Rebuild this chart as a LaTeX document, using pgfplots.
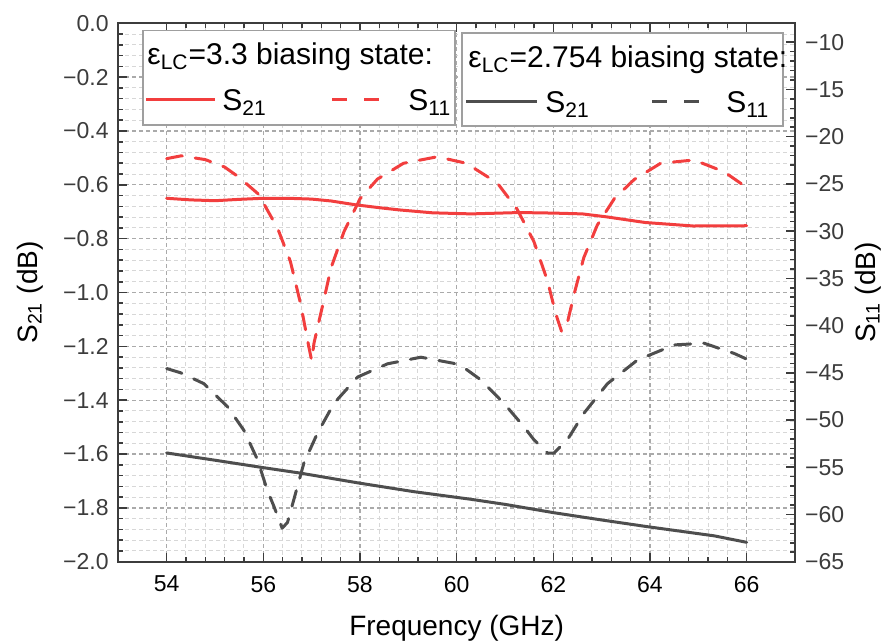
\documentclass[border=0pt]{standalone}
\usepackage{pgfplots}
\pgfplotsset{compat=1.18}
\usepackage{fontspec}
\setmainfont{Liberation Sans}
\definecolor{cred}{RGB}{242,62,62}
\definecolor{cgray}{RGB}{78,78,78}
\definecolor{gmaj}{RGB}{170,170,170}
\definecolor{gmin}{RGB}{215,215,215}
\definecolor{axcol}{RGB}{60,60,60}
\definecolor{tlab}{RGB}{60,60,60}
\begin{document}
\begin{tikzpicture}
\pgfplotsset{
  myaxis/.style={
    scale only axis, width=338.35pt, height=269.2pt,
    xmin=53, xmax=67,
    tick align=inside,
    major tick length=4.5pt, minor tick length=2.5pt,
    every tick/.style={axcol, line width=0.8pt},
    axis line style={axcol, line width=1.1pt},
    /pgf/number format/assume math mode=true,
    tick label style={font=\fontsize{11.5}{13}\selectfont},
    label style={font=\fontsize{14}{16}\selectfont},
  }
}
\begin{axis}[myaxis, name=ax,
  ymin=-2, ymax=0,
  xtick={54,56,...,66}, minor x tick num=4, xtick pos=both, xticklabel pos=lower,
  ytick={-2,-1.8,-1.6,-1.4,-1.2,-1,-0.8,-0.6,-0.4,-0.2,0},
  yticklabels={−2.0,−1.8,−1.6,−1.4,−1.2,−1.0,−0.8,−0.6,−0.4,−0.2,0.0},
  minor y tick num=4, ytick pos=left,
  grid=both,
  major grid style={gmaj, line width=0.65pt, dash pattern=on 2pt off 1.5pt},
  minor grid style={gmin, line width=0.5pt, dash pattern=on 2pt off 1.5pt},
  xticklabel style={anchor=north, yshift=-3.7pt, text=black},
  yticklabel style={anchor=east, xshift=-1.3pt, text=tlab},
  xlabel={Frequency (GHz)},
  ylabel={S\textsubscript{21} (dB)},
  xlabel style={at={(axis description cs:0.5,-0.1231)}, anchor=center},
  ylabel style={at={(axis description cs:-0.1305,0.5)}, anchor=center},
]
\addplot[cred, line width=1.5pt, line cap=round, line join=round] coordinates {
(54.0,-0.650) (54.5,-0.656) (55.0,-0.659) (55.5,-0.654) (56.0,-0.650)
(56.5,-0.650) (57.0,-0.653) (57.4,-0.660) (57.9,-0.674) (58.4,-0.685)
(58.8,-0.693) (59.5,-0.704) (60.3,-0.708) (61.3,-0.703) (62.0,-0.705)
(62.6,-0.708) (63.1,-0.719) (63.9,-0.740) (64.9,-0.753) (66.0,-0.752)
};
\addplot[cgray, line width=1.5pt, line cap=round, line join=round] coordinates {
(54.0,-1.596) (55.0,-1.623) (55.94,-1.649) (56.77,-1.671) (57.95,-1.707)
(59.12,-1.740) (60.29,-1.768) (61.0,-1.787) (62.01,-1.818) (63.0,-1.845)
(63.95,-1.870) (65.33,-1.904) (66.0,-1.928)
};
\end{axis}
\begin{axis}[myaxis,
  axis y line*=right, axis x line=none,
  ymin=-65, ymax=-8,
  ytick={-65,-60,...,-10},
  yticklabels={−65,−60,−55,−50,−45,−40,−35,−30,−25,−20,−15,−10},
  minor y tick num=4,
  yticklabel style={anchor=west, xshift=1.5pt, text=tlab},
  ylabel={S\textsubscript{11} (dB)},
  ylabel style={at={(axis description cs:1.1079,0.5)}, anchor=center},
]
\addplot[cred, line width=1.5pt, line cap=round, line join=round, dash pattern=on 8pt off 6.5pt] coordinates {
(54.0,-22.33) (54.3,-22.03) (54.8,-22.43) (55.2,-23.22) (55.5,-24.31) (55.9,-26.09)
(56.3,-29.75) (56.56,-33.21) (56.77,-37.66) (56.94,-42.21) (57.0,-43.7) (57.05,-41.82)
(57.25,-37.36) (57.4,-33.9) (57.67,-30.05) (58.0,-26.58) (58.36,-24.5) (58.9,-22.82)
(59.6,-22.13) (60.2,-22.82) (60.84,-24.9) (61.25,-27.67) (61.6,-31.13) (61.88,-35.28)
(62.05,-38.74) (62.17,-40.62) (62.28,-39.93) (62.43,-36.67) (62.63,-32.81) (62.91,-29.36)
(63.26,-26.58) (63.67,-24.55) (64.22,-22.82) (64.91,-22.47) (65.53,-23.71) (66.0,-25.38)
};
\addplot[cgray, line width=1.5pt, line cap=round, line join=round, dash pattern=on 8pt off 6.5pt] coordinates {
(54.0,-44.55) (54.29,-45.0) (54.77,-46.15) (55.26,-48.6) (55.6,-51.1) (55.88,-54.2)
(56.08,-57.4) (56.22,-59.15) (56.39,-61.45) (56.5,-60.85) (56.63,-58.45) (56.84,-54.55)
(57.12,-51.4) (57.46,-48.25) (57.95,-45.45) (58.57,-44.05) (59.26,-43.35) (59.94,-44.0)
(60.15,-44.45) (60.5,-45.75) (60.98,-48.25) (61.39,-50.7) (61.6,-52.1) (61.88,-53.5)
(62.01,-53.5) (62.29,-52.1) (62.63,-49.3) (63.12,-46.15) (63.74,-43.65) (64.5,-42.05)
(65.12,-41.87) (65.74,-42.95) (66.0,-43.55)
};
\end{axis}
% legend boxes
\begin{scope}[font=\fontsize{15}{17}\selectfont]
\draw[gray!75, fill=white, line width=0.6pt] ([xshift=12.35pt,yshift=-3.6pt]ax.north west) rectangle ([xshift=168.35pt,yshift=-50.85pt]ax.north west);
\node[anchor=west, inner sep=0pt] at ([xshift=14.35pt,yshift=-16.85pt]ax.north west) {ε\textsubscript{LC}=3.3 biasing state:};
\draw[cred, line width=1.5pt] ([xshift=13.85pt,yshift=-38.35pt]ax.north west) -- ([xshift=48.35pt,yshift=-38.35pt]ax.north west);
\node[anchor=base west, inner sep=0pt] at ([xshift=51.85pt,yshift=-43.7pt]ax.north west) {S\textsubscript{21}};
\draw[cred, line width=1.5pt, dash pattern=on 7.5pt off 8.5pt] ([xshift=106.85pt,yshift=-38.35pt]ax.north west) -- ([xshift=132.35pt,yshift=-38.35pt]ax.north west);
\node[anchor=base west, inner sep=0pt] at ([xshift=144.85pt,yshift=-43.7pt]ax.north west) {S\textsubscript{11}};
\draw[gray!75, fill=white, line width=0.6pt] ([xshift=171.85pt,yshift=-4.85pt]ax.north west) rectangle ([xshift=332.35pt,yshift=-51.35pt]ax.north west);
\node[anchor=west, inner sep=0pt] at ([xshift=174.85pt,yshift=-18.35pt]ax.north west) {ε\textsubscript{LC}=2.754 biasing state:};
\draw[cgray, line width=1.5pt] ([xshift=173.85pt,yshift=-39.35pt]ax.north west) -- ([xshift=209.35pt,yshift=-39.35pt]ax.north west);
\node[anchor=base west, inner sep=0pt] at ([xshift=213.35pt,yshift=-44.7pt]ax.north west) {S\textsubscript{21}};
\draw[cgray, line width=1.5pt, dash pattern=on 7.5pt off 8.5pt] ([xshift=266.85pt,yshift=-39.35pt]ax.north west) -- ([xshift=290.85pt,yshift=-39.35pt]ax.north west);
\node[anchor=base west, inner sep=0pt] at ([xshift=303.85pt,yshift=-44.7pt]ax.north west) {S\textsubscript{11}};
\end{scope}
\pgfresetboundingbox
\path[use as bounding box] ([xshift=-59.15pt,yshift=-40.15pt]ax.south west) rectangle ([xshift=43.5pt,yshift=11.65pt]ax.north east);
\end{tikzpicture}
\end{document}
